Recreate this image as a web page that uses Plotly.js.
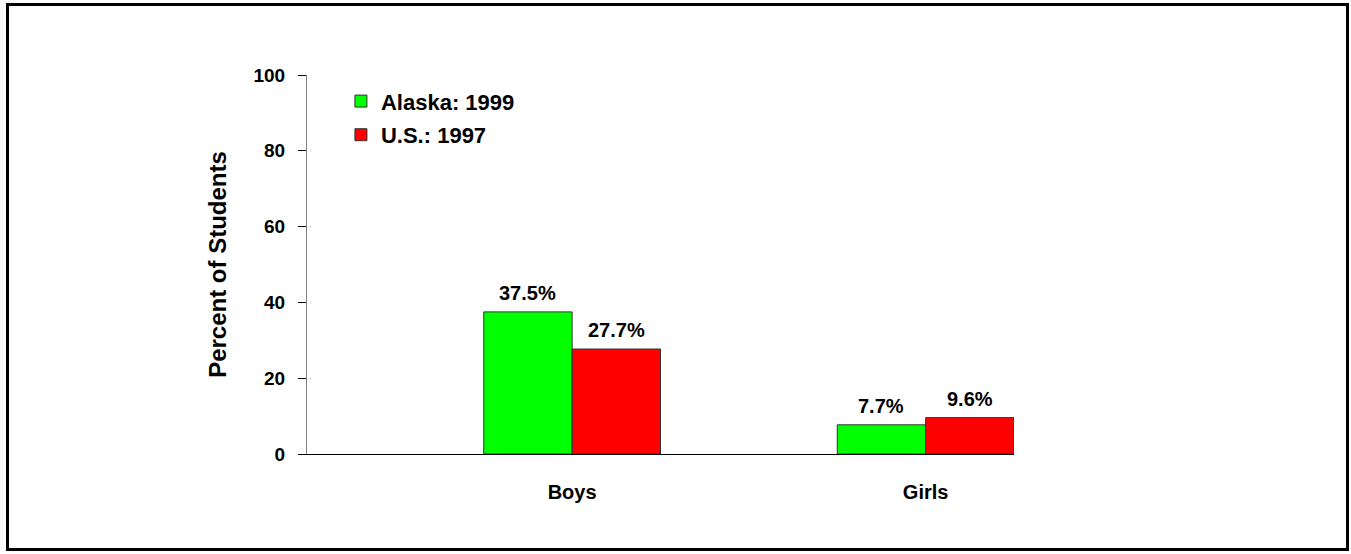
<!DOCTYPE html>
<html>
<head>
<meta charset="utf-8">
<script src="https://cdn.plot.ly/plotly-3.0.1.min.js"></script>
<style>
  html, body { margin: 0; padding: 0; background: #fff; }
  #wrap { position: relative; width: 1351px; height: 554px; }
  #chart { position: absolute; left: 0; top: 0; width: 1351px; height: 554px; }
  #frame { position: absolute; left: 6px; top: 3px; width: 1343px; height: 548px;
           box-sizing: border-box; border: 3px solid #000; pointer-events: none; }
</style>
</head>
<body>
<div id="wrap">
  <div id="chart"></div>
  <div id="frame"></div>
</div>
<script>
// ---- data ----
const categories = ["Boys", "Girls"];
const seriesNames = ["Alaska: 1999", "U.S.: 1997"];
const alaska1999 = [37.5, 7.7];
const us1997 = [27.7, 9.6];
const yTickVals = [0, 20, 40, 60, 80, 100];
const yTickText = ["0", "20", "40", "60", "80", "100"];

const FONT = "Arial, 'Liberation Sans', sans-serif";
const BARGAP = 0.5;
const barWidthCat = (1 - BARGAP) / 2;

const series = [alaska1999, us1997];
const colors = ["#00ff00", "#ff0000"];

const traces = series.map((vals, i) => ({
  type: "bar",
  name: seriesNames[i],
  x: categories,
  y: vals,
  legendgroup: "g" + i,
  marker: { color: colors[i], line: { color: "#333333", width: 1 } },
  hoverinfo: "x+y+name"
}));

const annotations = [];
series.forEach((vals, i) => {
  const off = (i - 0.5) * barWidthCat;
  vals.forEach((v, j) => {
    annotations.push({
      x: j + off, y: v, xref: "x", yref: "y",
      text: v.toFixed(1) + "%",
      showarrow: false, yanchor: "bottom", xanchor: "center",
      yshift: 6,
      font: { family: FONT, size: 20, color: "#000", weight: "bold" }
    });
  });
});

const layout = {
  width: 1351, height: 554,
  margin: { l: 307, r: 337, t: 75, b: 100, autoexpand: false },
  paper_bgcolor: "#fff", plot_bgcolor: "#fff",
  barmode: "group", bargap: BARGAP, bargroupgap: 0,
  showlegend: true,
  legend: {
    x: 0.048, y: 0.986, xanchor: "left", yanchor: "top",
    traceorder: "grouped", tracegroupgap: 2,
    font: { family: FONT, size: 22, color: "#000", weight: "bold" },
    bgcolor: "rgba(0,0,0,0)"
  },
  xaxis: {
    type: "category", range: [-0.75, 1.25], fixedrange: true,
    showline: true, linecolor: "#000", linewidth: 1,
    ticks: "", showgrid: false, zeroline: false,
    ticklabelstandoff: 20,
    tickfont: { family: FONT, size: 20, color: "#000", weight: "bold" }
  },
  yaxis: {
    range: [0, 100], fixedrange: true,
    tickvals: yTickVals, ticktext: yTickText,
    showline: true, linecolor: "#808080", linewidth: 1,
    ticks: "outside", ticklen: 8, tickcolor: "#000", tickwidth: 1,
    ticklabelstandoff: 9,
    showgrid: false, zeroline: false,
    tickfont: { family: FONT, size: 19, color: "#000", weight: "bold" },
    title: { text: "Percent of Students", standoff: 20,
             font: { family: FONT, size: 24, color: "#000", weight: "bold" } }
  },
  annotations: annotations
};

Plotly.newPlot("chart", traces, layout, { displayModeBar: false, staticPlot: true });
</script>
</body>
</html>
